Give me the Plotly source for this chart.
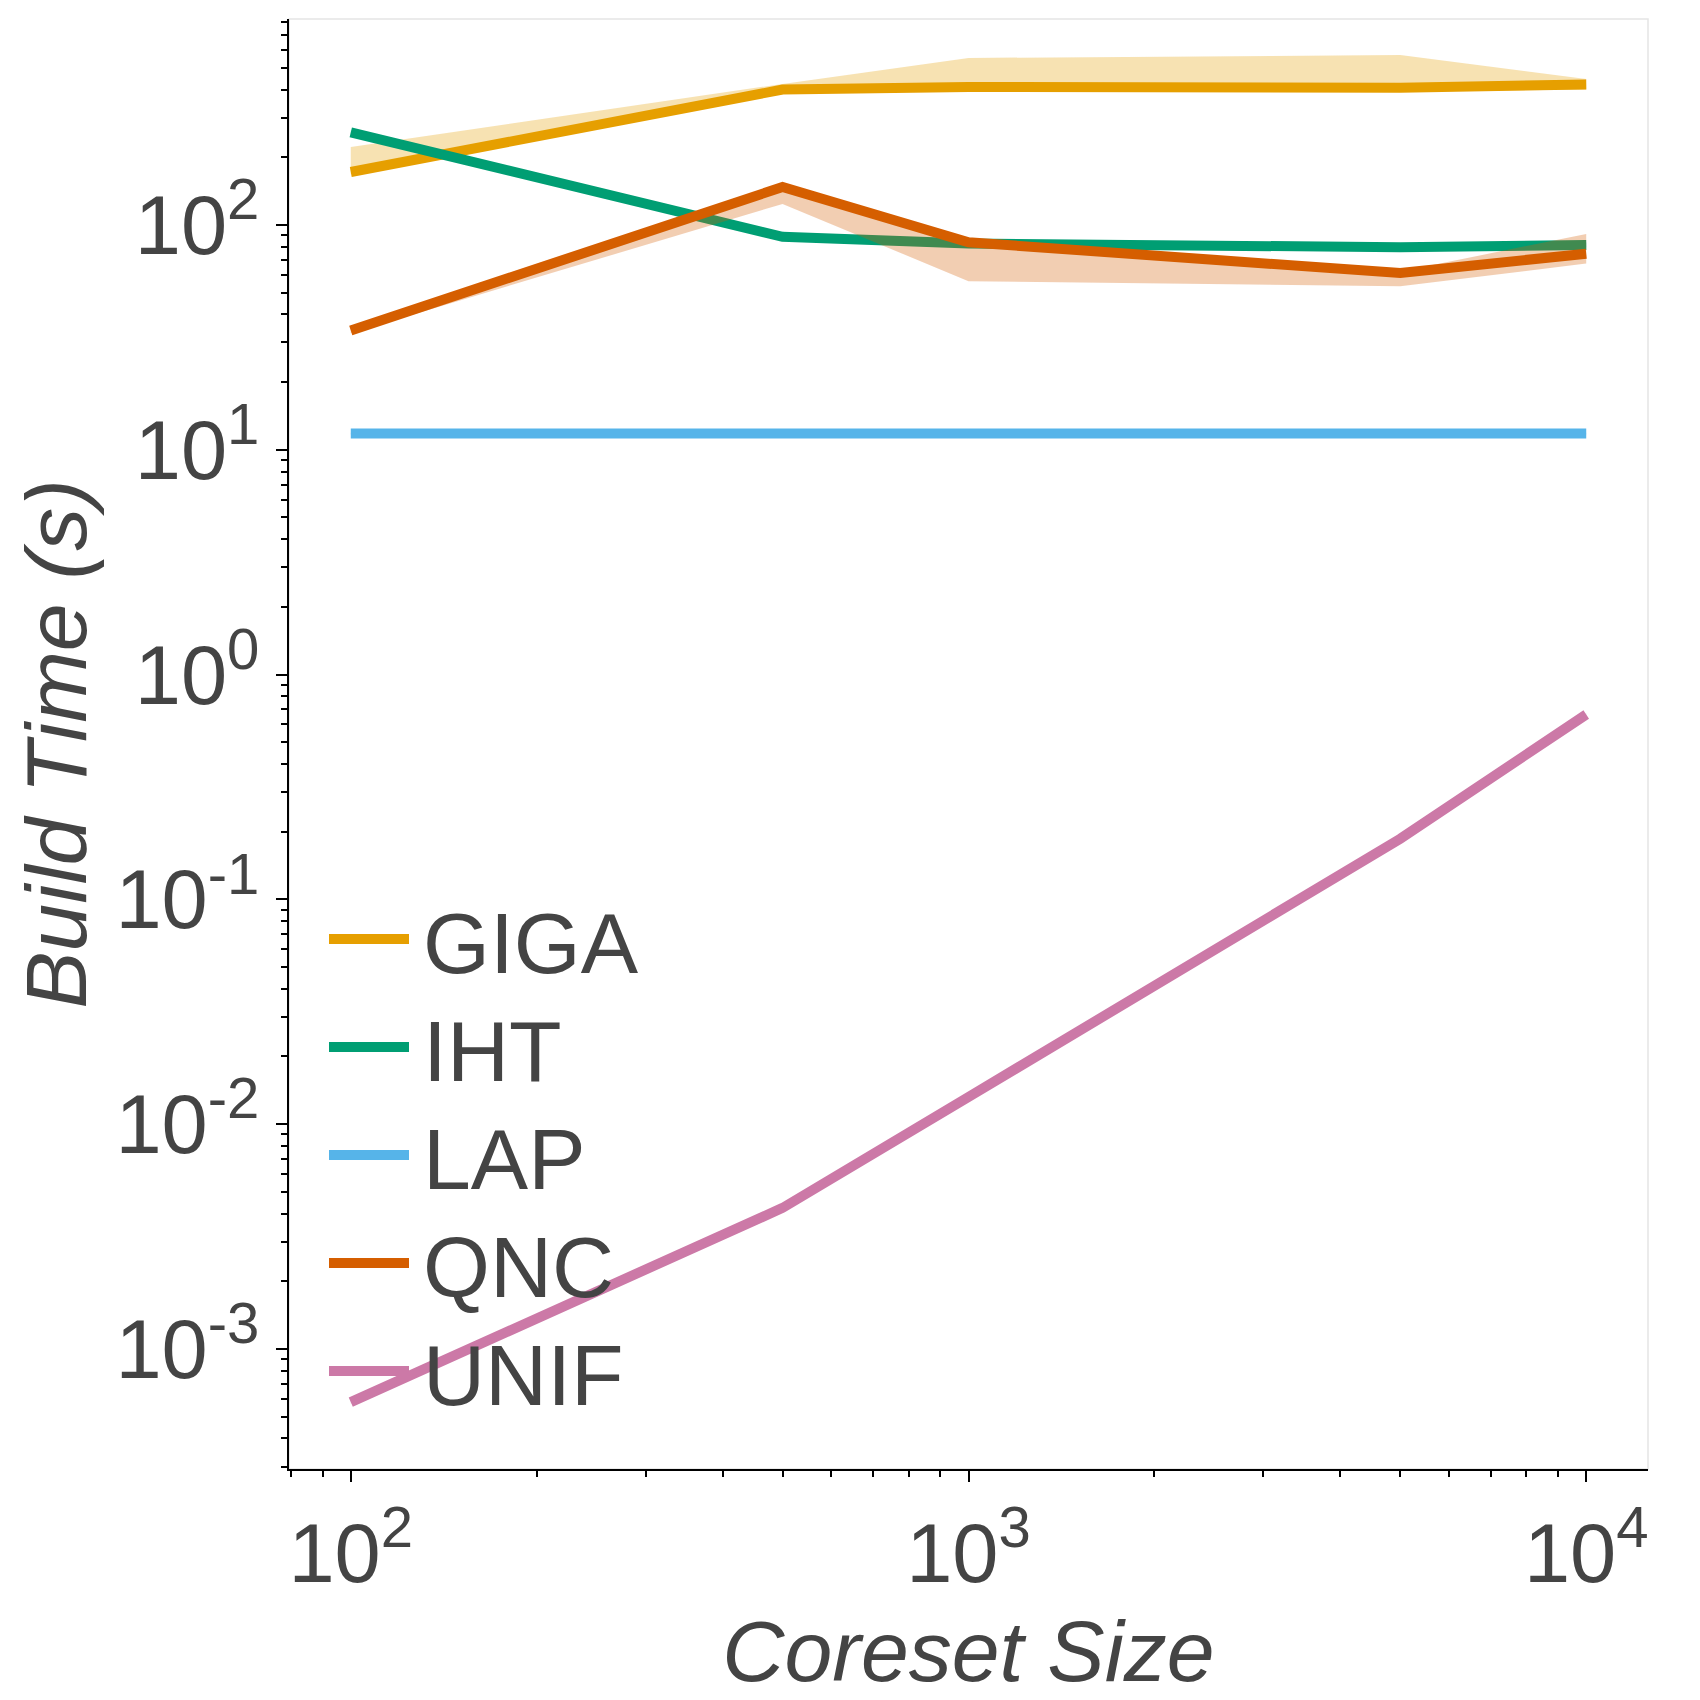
import plotly.graph_objects as go

# coreset sizes
sizes = [100, 500, 1000, 5000, 10000]

names = ["GIGA", "IHT", "LAP", "QNC", "UNIF"]
colors = ["#E69F00", "#009E73", "#56B4E9", "#D55E00", "#CC79A7"]
bands = ["rgba(230,159,0,0.3)", "rgba(0,158,115,0.3)", "rgba(86,180,233,0.3)",
         "rgba(213,94,0,0.3)", "rgba(204,121,167,0.3)"]

# build time (s), median and band
giga = [172, 400, 411, 408, 421]
giga_lo = [168, 395, 392, 393, 400]
giga_hi = [222, 424, 553, 570, 446]

iht = [258, 88.5, 82.6, 79.6, 81.5]
iht_lo = [252, 86, 80.5, 77.5, 79.5]
iht_hi = [264, 91, 84.5, 81.5, 83.5]

lap = [11.8, 11.8, 11.8, 11.8, 11.8]
lap_lo = [11.7, 11.7, 11.7, 11.7, 11.7]
lap_hi = [11.9, 11.9, 11.9, 11.9, 11.9]

qnc = [33.9, 147.5, 83.7, 61.1, 74.5]
qnc_lo = [33, 124, 56.2, 53.3, 67.3]
qnc_hi = [34.5, 150, 85, 62, 91.2]

unif = [0.00058, 0.00424, 0.0132, 0.186, 0.664]
unif_lo = [0.00057, 0.00418, 0.0130, 0.183, 0.655]
unif_hi = [0.00059, 0.00430, 0.0134, 0.189, 0.673]

# tick labels
x_tickvals = [100, 1000, 10000]
x_ticktext = ["10<sup>2</sup>", "10<sup>3</sup>", "10<sup>4</sup>"]
y_tickvals = [0.001, 0.01, 0.1, 1, 10, 100]
y_ticktext = ["10<sup>-3</sup>", "10<sup>-2</sup>", "10<sup>-1</sup>",
              "10<sup>0</sup>", "10<sup>1</sup>", "10<sup>2</sup>"]

series = [(giga, giga_lo, giga_hi), (iht, iht_lo, iht_hi), (lap, lap_lo, lap_hi),
          (qnc, qnc_lo, qnc_hi), (unif, unif_lo, unif_hi)]

fig = go.Figure()
for name, col, bcol, (mid, lo, hi) in zip(names, colors, bands, series):
    # shaded band first, then the line on top of it
    fig.add_trace(go.Scatter(x=sizes + sizes[::-1], y=hi + lo[::-1], fill="toself",
                             fillcolor=bcol, line=dict(width=0), mode="lines",
                             hoverinfo="skip", showlegend=False))
    fig.add_trace(go.Scatter(x=sizes, y=mid, mode="lines", name=name,
                             line=dict(color=col, width=10), showlegend=False))

# hand-made legend (long line samples)
L, R, T, B = 281, 1640, 11, 1461
for i, (name, col) in enumerate(zip(names, colors)):
    yc = (B - (931 + 108 * i)) / (B - T)
    fig.add_shape(type="line", xref="paper", yref="paper",
                  x0=(321 - L) / (R - L), x1=(401 - L) / (R - L), y0=yc, y1=yc,
                  line=dict(color=col, width=10))
    fig.add_annotation(text=name, xref="paper", yref="paper", x=(413 - L) / (R - L), y=yc,
                       xanchor="left", yanchor="middle", yshift=-4, showarrow=False,
                       font=dict(size=86, color="#444"))

# light frame top/right
fig.add_shape(type="rect", xref="paper", yref="paper", x0=0, x1=1, y0=0, y1=1,
              line=dict(color="#e5e5e5", width=1.5), layer="below")

axis_common = dict(type="log", showgrid=False, zeroline=False, automargin=False,
                   showline=True, linecolor="black", linewidth=2,
                   ticks="outside", ticklen=11, tickwidth=1.5, tickcolor="black",
                   tickfont=dict(size=83, color="#444"),
                   minor=dict(dtick="D1", ticks="outside", ticklen=6, tickwidth=1.5,
                              tickcolor="black", showgrid=False))

fig.update_xaxes(range=[1.9, 4.1], tickmode="array", tickvals=x_tickvals, ticktext=x_ticktext,
                 title=dict(text="<i>Coreset Size</i>", font=dict(size=86, color="#444"), standoff=22),
                 **axis_common)
fig.update_yaxes(range=[-3.534, 2.916], tickmode="array", tickvals=y_tickvals, ticktext=y_ticktext,
                 title=dict(text="<i>Build Time (s)</i>", font=dict(size=86, color="#444"), standoff=20),
                 **axis_common)

fig.update_layout(width=1700, height=1700, margin=dict(l=L, r=1700 - R, t=T, b=1700 - B),
                  plot_bgcolor="white", paper_bgcolor="white",
                  font=dict(family="Liberation Sans, Arial, Helvetica, sans-serif", color="#444"))

fig.write_html("out.html")
